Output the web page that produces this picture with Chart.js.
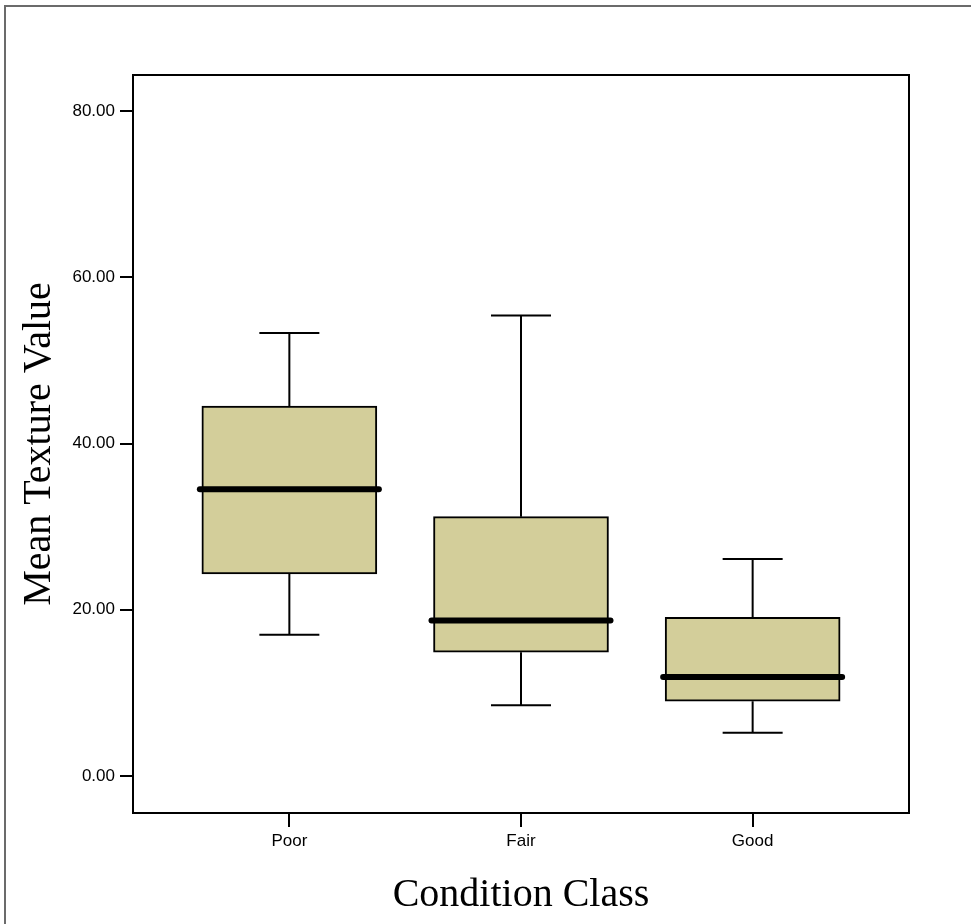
<!DOCTYPE html>
<html>
<head>
<meta charset="utf-8">
<script src="https://cdn.jsdelivr.net/npm/chart.js@4/dist/chart.umd.min.js"></script>
<style>
  html, body { margin: 0; padding: 0; background: #fff; }
  #wrap { position: relative; width: 971px; height: 924px; overflow: hidden; }
  #frame { position: absolute; left: 4px; top: 5px; width: 1000px; height: 1000px;
           border-left: 2px solid #6b6b6b; border-top: 2px solid #6b6b6b; }
  canvas { position: absolute; left: 0; top: 0; }
</style>
</head>
<body>
<div id="wrap">
  <div id="frame"></div>
  <canvas id="box" width="971" height="924"></canvas>
</div>
<script>
// box plot values
const categories = ['Poor', 'Fair', 'Good'];
const whiskerLow = [17.0, 8.5, 5.2];
const q1 = [24.3, 14.9, 9.0];
const median = [34.5, 18.7, 11.9];
const q3 = [44.5, 31.2, 19.1];
const whiskerHigh = [53.3, 55.4, 26.1];
const yTicks = [0, 20, 40, 60, 80];

const boxFill = '#d3ce9a';

// whiskers, caps and median bars go through the chart scales
const boxExtras = {
  id: 'boxExtras',
  beforeDatasetsDraw(chart) {
    const { ctx, scales: { x, y } } = chart;
    ctx.save();
    ctx.strokeStyle = '#000';
    ctx.lineWidth = 2;
    categories.forEach((c, i) => {
      const cx = x.getPixelForValue(i);
      const capHalf = 30;
      ctx.beginPath();
      ctx.moveTo(cx, y.getPixelForValue(whiskerHigh[i]));
      ctx.lineTo(cx, y.getPixelForValue(q3[i]));
      ctx.moveTo(cx, y.getPixelForValue(q1[i]));
      ctx.lineTo(cx, y.getPixelForValue(whiskerLow[i]));
      ctx.moveTo(cx - capHalf, y.getPixelForValue(whiskerHigh[i]));
      ctx.lineTo(cx + capHalf, y.getPixelForValue(whiskerHigh[i]));
      ctx.moveTo(cx - capHalf, y.getPixelForValue(whiskerLow[i]));
      ctx.lineTo(cx + capHalf, y.getPixelForValue(whiskerLow[i]));
      ctx.stroke();
    });
    ctx.restore();
  },
  afterDatasetsDraw(chart) {
    const { ctx, chartArea, scales: { x, y } } = chart;
    const meta = chart.getDatasetMeta(0);
    ctx.save();
    ctx.strokeStyle = '#000';
    ctx.lineWidth = 6;
    ctx.lineCap = 'round';
    categories.forEach((c, i) => {
      const bar = meta.data[i];
      const half = bar.width / 2 + 2;
      const my = y.getPixelForValue(median[i]);
      ctx.beginPath();
      ctx.moveTo(bar.x - half, my);
      ctx.lineTo(bar.x + half, my);
      ctx.stroke();
    });
    // plot frame
    ctx.lineWidth = 2;
    ctx.lineCap = 'butt';
    ctx.strokeRect(chartArea.left, chartArea.top, chartArea.right - chartArea.left, chartArea.bottom - chartArea.top);
    ctx.restore();
  }
};

new Chart(document.getElementById('box'), {
  type: 'bar',
  data: {
    datasets: [{
      data: categories.map((c, i) => ({ x: i, y: [q1[i], q3[i]] })),
      backgroundColor: boxFill,
      borderColor: '#000',
      borderWidth: 2,
      borderSkipped: false,
      barThickness: 175
    }]
  },
  options: {
    responsive: false,
    animation: false,
    layout: { padding: { top: 75, right: 62, left: 0, bottom: 0 } },
    plugins: { legend: { display: false }, tooltip: { enabled: false } },
    scales: {
      x: {
        type: 'linear',
        offset: false,
        min: -0.675,
        max: 2.675,
        afterBuildTicks: (s) => { s.ticks = categories.map((c, i) => ({ value: i })); },
        afterFit: (s) => { s.height = 111; },
        border: { display: false },
        grid: { offset: false, drawOnChartArea: false, color: '#000', lineWidth: 2, tickLength: 14 },
        ticks: {
          callback: (v) => categories[v],
          color: '#000',
          padding: 4,
          maxRotation: 0,
          font: { family: 'Liberation Sans, Arial, sans-serif', size: 17 }
        },
        title: {
          display: true,
          text: 'Condition Class',
          color: '#000',
          padding: { top: 0, bottom: 9 },
          font: { family: 'Liberation Serif, Times New Roman, serif', size: 40, lineHeight: 1 }
        }
      },
      y: {
        min: -4.45,
        max: 84.33,
        afterBuildTicks: (s) => { s.ticks = yTicks.map(v => ({ value: v })); },
        afterFit: (s) => { s.width = 133; },
        border: { display: false },
        grid: { drawOnChartArea: false, color: '#000', lineWidth: 2, tickLength: 13 },
        ticks: {
          callback: (v) => v.toFixed(2),
          color: '#000',
          padding: 5,
          font: { family: 'Liberation Sans, Arial, sans-serif', size: 17 }
        },
        title: {
          display: true,
          text: 'Mean Texture Value',
          color: '#000',
          padding: { top: 19, bottom: 0 },
          font: { family: 'Liberation Serif, Times New Roman, serif', size: 40, lineHeight: 1 }
        }
      }
    }
  },
  plugins: [boxExtras]
});
</script>
</body>
</html>
